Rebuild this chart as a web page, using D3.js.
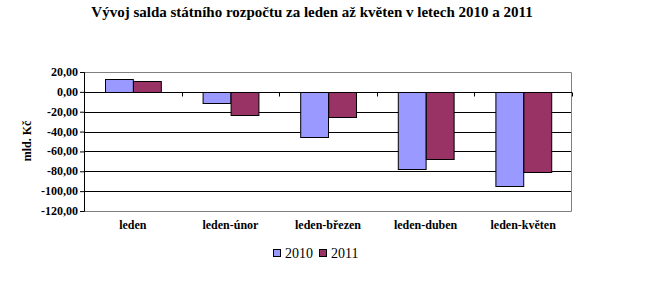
<!DOCTYPE html>
<html>
<head>
<meta charset="utf-8">
<script src="https://cdn.jsdelivr.net/npm/d3@7"></script>
<style>
  body { margin: 0; background: #fff; }
  svg { display: block; }
  svg text { font-family: "Liberation Serif", "Times New Roman", "DejaVu Serif", serif; }
</style>
</head>
<body>
<div id="chart"></div>
<script>
const categories = ['leden', 'leden-únor', 'leden-březen', 'leden-duben', 'leden-květen']
const seriesNames = ['2010', '2011']
const values2010 = [13, -11, -45.5, -77.5, -95]
const values2011 = [11, -23, -25.5, -67.5, -81]
const yTicks = [20, 0, -20, -40, -60, -80, -100, -120]
const colors = ['#9999FF', '#993366']

let width = 659
let height = 291
let margin = { top: 72, right: 87, bottom: 80, left: 84 }
let innerWidth = width - margin.left - margin.right
let innerHeight = height - margin.top - margin.bottom

let svg = d3.select('#chart').append('svg')
  .attr('width', width)
  .attr('height', height)

// title
svg.append('text')
  .attr('x', 312)
  .attr('y', 17)
  .attr('text-anchor', 'middle')
  .attr('font-size', '15px')
  .attr('font-weight', 'bold')
  .text('Vývoj salda státního rozpočtu za leden až květen v letech 2010 a 2011')

let g = svg.append('g')
  .attr('transform', 'translate(' + margin.left + ',' + margin.top + ')')

let yScale = d3.scaleLinear().domain([-120, 20]).range([innerHeight, 0])

let x0 = d3.scaleBand().domain(categories).range([0, innerWidth]).padding(0)

let bw = x0.bandwidth()
let x1 = d3.scaleBand().domain(seriesNames).range([bw * 0.215, bw * 0.785]).padding(0)

// gridlines
g.selectAll(null)
  .data(yTicks.filter(function (d) { return d < 20 && d > -120 }))
  .enter().append('line')
  .attr('x1', 0).attr('x2', innerWidth)
  .attr('y1', function (d) { return Math.round(yScale(d)) + 0.5 })
  .attr('y2', function (d) { return Math.round(yScale(d)) + 0.5 })
  .attr('stroke', '#000')

// plot border (top, right, bottom)
g.append('path')
  .attr('d', 'M0,0.5H' + (innerWidth - 0.5) + 'V' + (innerHeight + 0.5) + 'H0')
  .attr('fill', 'none')
  .attr('stroke', '#808080')

let rows = categories.map(function (c, i) {
  return { cat: c, vals: [values2010[i], values2011[i]] }
})

let groups = g.selectAll(null)
  .data(rows)
  .enter().append('g')
  .attr('transform', function (d) { return 'translate(' + x0(d.cat) + ',0)' })

groups.selectAll('rect')
  .data(function (d) { return d.vals.map(function (v, j) { return { s: seriesNames[j], v: v, j: j } }) })
  .enter().append('rect')
  .attr('x', function (d) { return Math.round(x1(d.s)) + 0.5 })
  .attr('width', x1.bandwidth())
  .attr('y', function (d) { return Math.round(yScale(Math.max(0, d.v))) + 0.5 })
  .attr('height', function (d) { return Math.abs(Math.round(yScale(d.v)) - Math.round(yScale(0))) })
  .attr('fill', function (d) { return colors[d.j] })
  .attr('stroke', '#000')
  .attr('stroke-width', 1)

// y axis (line + ticks), labels drawn separately
let yAxis = d3.axisLeft(yScale)
  .tickValues(yTicks)
  .tickSize(4)
  .tickFormat('')

let yG = g.append('g').call(yAxis)
yG.selectAll('text').remove()
yG.select('.domain').attr('stroke', '#000')
yG.selectAll('.tick line').attr('stroke', '#000')

let yLabels = svg.append('g')
  .attr('text-anchor', 'end')
  .attr('font-size', '12px')
  .attr('font-weight', 'bold')
yTicks.forEach(function (d) {
  yLabels.append('text')
    .attr('x', margin.left - 6)
    .attr('y', margin.top + yScale(d) + 4)
    .text(d3.format('.2f')(d).replace('.', ',').replace('−', '-'))
})

// category axis at zero
let zeroY = Math.round(yScale(0)) + 0.5
g.append('line')
  .attr('x1', 0).attr('x2', innerWidth)
  .attr('y1', zeroY).attr('y2', zeroY)
  .attr('stroke', '#000')
g.selectAll(null)
  .data(categories.slice(1).concat(['end']))
  .enter().append('line')
  .attr('x1', function (d, i) { return Math.round(bw * (i + 1)) + 0.5 })
  .attr('x2', function (d, i) { return Math.round(bw * (i + 1)) + 0.5 })
  .attr('y1', zeroY).attr('y2', zeroY + 4)
  .attr('stroke', '#000')

// category labels
let catLabels = svg.append('g')
  .attr('text-anchor', 'middle')
  .attr('font-size', '12px')
  .attr('font-weight', 'bold')
categories.forEach(function (d) {
  catLabels.append('text')
    .attr('x', margin.left + x0(d) + bw / 2)
    .attr('y', margin.top + innerHeight + 18)
    .text(d)
})

// y title
svg.append('text')
  .attr('transform', 'translate(31,' + (margin.top + 69) + ') rotate(-90)')
  .attr('text-anchor', 'middle')
  .attr('font-size', '12px')
  .attr('font-weight', 'bold')
  .text('mld. Kč')

// legend
let legend = svg.append('g').attr('transform', 'translate(273,249)')
let items = legend.selectAll(null)
  .data(seriesNames)
  .enter().append('g')
  .attr('transform', function (d, i) { return 'translate(' + (i * 46) + ',0)' })
items.append('rect')
  .attr('x', 0.5).attr('y', 0.5)
  .attr('width', 7).attr('height', 7)
  .attr('fill', function (d, i) { return colors[i] })
  .attr('stroke', '#000')
items.append('text')
  .attr('x', 12)
  .attr('y', 9)
  .attr('font-size', '14px')
  .text(function (d) { return d })
</script>
</body>
</html>
